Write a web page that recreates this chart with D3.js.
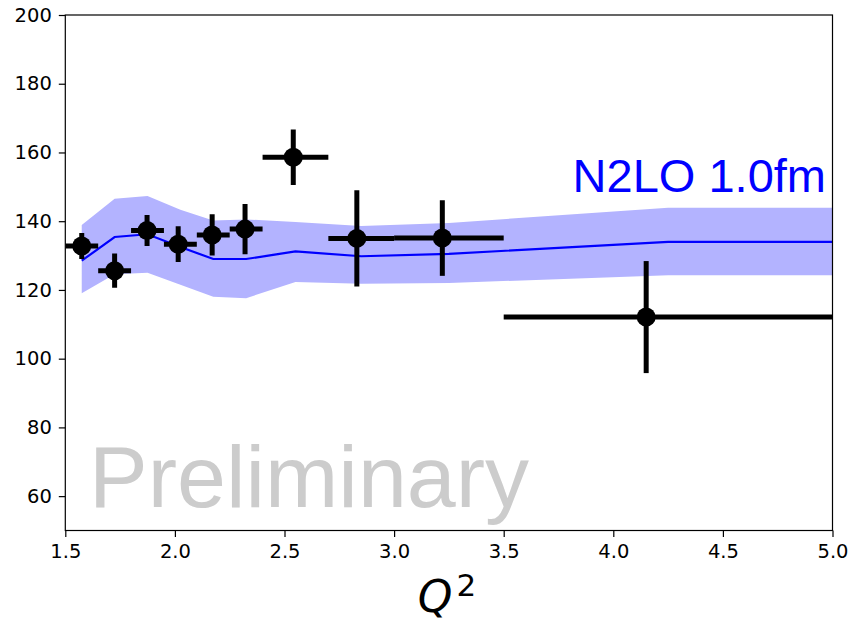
<html lang="en">
<head>
  <meta http-equiv="Content-Type" content="text/html; charset=UTF-8">
  <title>N2LO</title>
  <script type="text/javascript" src="https://cdn.jsdelivr.net/npm/d3@7"></script>
  <style type="text/css">
    body { margin: 0; background: #fff; }
    text { font-family: "DejaVu Sans", sans-serif; }
  </style>
</head>
<body>
  <script type="text/javascript">
    // measured points: bin centre, bin edges, value, error
    var dataX = [1.575, 1.725, 1.873, 2.015, 2.17, 2.32, 2.54, 2.83, 3.22, 4.15];
    var dataXlo = [1.50, 1.65, 1.80, 1.95, 2.10, 2.25, 2.40, 2.70, 3.00, 3.50];
    var dataXhi = [1.65, 1.80, 1.95, 2.10, 2.25, 2.40, 2.70, 3.00, 3.50, 5.00];
    var dataY = [132.8, 125.6, 137.3, 133.3, 136.0, 137.7, 158.6, 135.0, 135.1, 112.1];
    var dataErr = [3.8, 5.0, 4.5, 5.2, 6.0, 7.3, 8.1, 14.0, 11.0, 16.3];

    // theory curve and its band
    var theoryX = [1.575, 1.725, 1.875, 2.025, 2.175, 2.325, 2.55, 2.85, 3.25, 4.25, 5.0];
    var theoryY = [128.5, 135.4, 136.2, 132.5, 129.0, 129.0, 131.2, 129.8, 130.5, 134.0, 134.0];
    var bandHi = [138.9, 146.5, 147.3, 143.3, 140.2, 140.5, 139.8, 138.6, 139.5, 143.9, 143.9];
    var bandLo = [119.0, 124.6, 125.0, 121.5, 118.0, 117.6, 122.3, 121.8, 122.0, 124.3, 124.3];

    var xTicks = [1.5, 2.0, 2.5, 3.0, 3.5, 4.0, 4.5, 5.0];
    var yTicks = [60, 80, 100, 120, 140, 160, 180, 200];

    var pLeft = 65.3, pRight = 832.5, pTop = 15, pBottom = 530.5;

    var svg = d3.select("body").append("svg").attr("width", 856).attr("height", 621);

    var x = d3.scaleLinear().domain([1.5, 5.0]).range([pLeft, pRight]);
    var y = d3.scaleLinear().domain([50, 200]).range([pBottom, pTop]);

    svg.append("defs").append("clipPath").attr("id", "clip")
      .append("rect").attr("x", pLeft).attr("y", pTop)
      .attr("width", pRight - pLeft).attr("height", pBottom - pTop);
    var plot = svg.append("g").attr("clip-path", "url(#clip)");

    // band
    var area = d3.area()
      .x(function(d, i) { return x(theoryX[i]); })
      .y0(function(d, i) { return y(bandLo[i]); })
      .y1(function(d, i) { return y(bandHi[i]); });
    plot.append("path")
      .attr("d", area(theoryX))
      .attr("fill", "#b3b3ff")
      .attr("stroke", "none");

    var line = d3.line()
      .x(function(d, i) { return x(theoryX[i]); })
      .y(function(d, i) { return y(theoryY[i]); });
    plot.append("path")
      .attr("d", line(theoryX))
      .attr("stroke", "#0000ff")
      .attr("stroke-width", 2.2)
      .attr("fill", "none");

    // error bars
    var pts = plot.selectAll("g.pt").data(dataX).enter().append("g");
    pts.append("line")
      .attr("x1", function(d, i) { return x(dataXlo[i]); })
      .attr("x2", function(d, i) { return x(dataXhi[i]); })
      .attr("y1", function(d, i) { return y(dataY[i]); })
      .attr("y2", function(d, i) { return y(dataY[i]); })
      .attr("stroke", "black").attr("stroke-width", 5);
    pts.append("line")
      .attr("x1", function(d) { return x(d); })
      .attr("x2", function(d) { return x(d); })
      .attr("y1", function(d, i) { return y(dataY[i] - dataErr[i]); })
      .attr("y2", function(d, i) { return y(dataY[i] + dataErr[i]); })
      .attr("stroke", "black").attr("stroke-width", 5);
    pts.append("circle")
      .attr("cx", function(d) { return x(d); })
      .attr("cy", function(d, i) { return y(dataY[i]); })
      .attr("r", 9.5)
      .attr("fill", "black");

    // texts in the plot
    svg.append("text")
      .attr("x", 826).attr("y", 192)
      .attr("text-anchor", "end")
      .style("font-family", "'Liberation Sans', Arial, sans-serif")
      .style("font-size", "47px")
      .attr("fill", "#0000ff")
      .text("N2LO 1.0fm");

    svg.append("text")
      .attr("x", 89).attr("y", 507)
      .style("font-family", "'Liberation Sans', Arial, sans-serif")
      .style("font-size", "88px")
      .attr("fill", "#cccccc")
      .text("Preliminary");

    // axes
    var xAxis = d3.axisBottom(x).tickValues(xTicks).tickSize(6.5).tickPadding(7.5)
      .tickFormat(d3.format(".1f"));
    var yAxis = d3.axisLeft(y).tickValues(yTicks).tickSize(6.5).tickPadding(7)
      .tickFormat(d3.format("d"));

    var gx = svg.append("g").attr("transform", "translate(0," + pBottom + ")").call(xAxis);
    var gy = svg.append("g").attr("transform", "translate(" + pLeft + ",0)").call(yAxis);
    [gx, gy].forEach(function(g) {
      g.select(".domain").remove();
      g.selectAll("line").attr("stroke", "black").attr("stroke-width", 1.2);
      g.selectAll("text").style("font-family", "'DejaVu Sans', sans-serif")
        .style("font-size", "19.5px").attr("fill", "black");
    });

    svg.append("rect")
      .attr("x", pLeft).attr("y", pTop)
      .attr("width", pRight - pLeft).attr("height", pBottom - pTop)
      .attr("fill", "none").attr("stroke", "black").attr("stroke-width", 1.2);

    // x label
    var lab = svg.append("text")
      .attr("x", 447).attr("y", 612)
      .attr("text-anchor", "middle")
      .style("font-family", "'DejaVu Sans', sans-serif")
      .style("font-size", "44px");
    lab.append("tspan").style("font-style", "italic").text("Q");
    lab.append("tspan").attr("dy", -16).attr("dx", 4).style("font-size", "31px").text("2");
  </script>
</body>
</html>
